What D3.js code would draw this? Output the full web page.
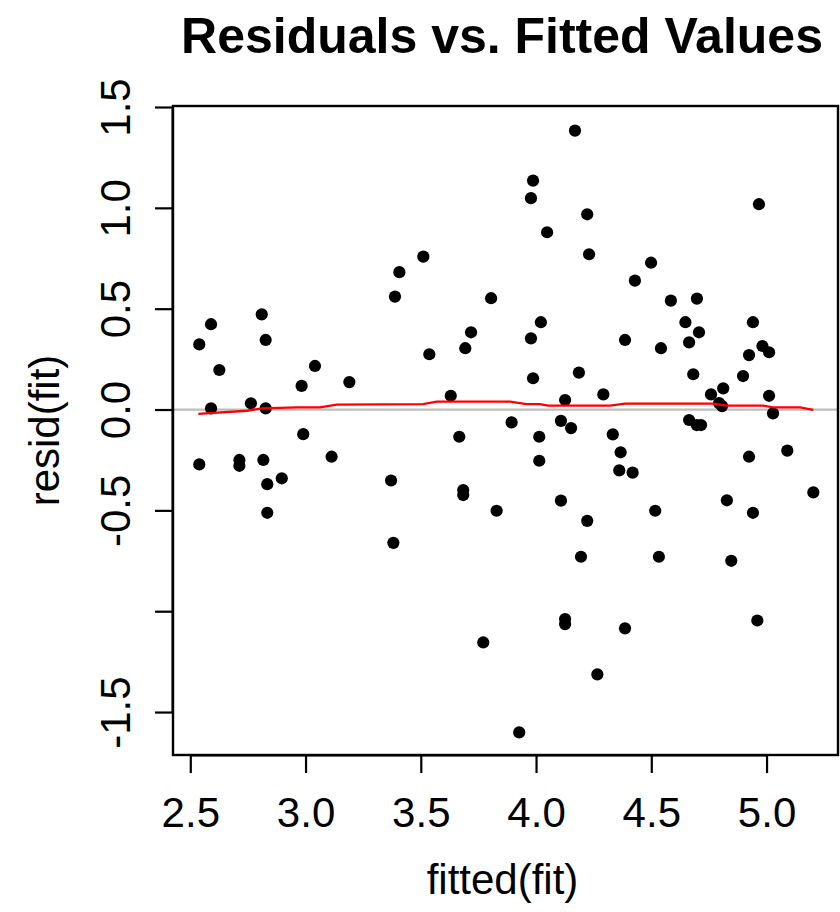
<!DOCTYPE html>
<html>
<head>
<meta charset="utf-8">
<script src="https://cdn.jsdelivr.net/npm/d3@7"></script>
<style>
  html, body { margin: 0; padding: 0; background: #ffffff; }
  svg { display: block; }
  text { font-family: "Liberation Sans", Arial, Helvetica, sans-serif; fill: #000; }
</style>
</head>
<body>
<script>
// Fitted values and residuals of the model
const fittedVals = [
  2.539, 2.590, 2.626, 2.590, 2.539, 2.713, 2.713, 2.763, 2.810, 2.827,
  2.827, 2.817, 2.834, 2.834, 2.897, 2.983, 2.990, 3.041, 3.113, 3.190,
  3.371, 3.381, 3.388, 3.407, 3.511, 3.537, 3.630, 3.667, 3.684, 3.684,
  3.693, 3.718, 3.771, 3.805, 3.829, 3.894, 3.927, 3.978, 3.987, 3.978,
  3.987, 4.014, 4.014, 4.021, 4.048, 4.108, 4.108, 4.126, 4.126, 4.126,
  4.152, 4.169, 4.186, 4.195, 4.222, 4.230, 4.222, 4.266, 4.292, 4.333,
  4.367, 4.361, 4.386, 4.386, 4.419, 4.429, 4.499, 4.517, 4.533, 4.542,
  4.585, 4.648, 4.664, 4.664, 4.682, 4.698, 4.707, 4.697, 4.716, 4.759,
  4.794, 4.812, 4.807, 4.828, 4.847, 4.898, 4.924, 4.924, 4.941, 4.941,
  4.960, 4.967, 4.982, 5.011, 5.011, 5.028, 5.090, 5.203
];
const residVals = [
  0.323, 0.423, 0.196, 0.006, -0.272, -0.250, -0.279, 0.031, 0.472, 0.345,
  0.006, -0.250, -0.370, -0.512, -0.341, 0.117, -0.122, 0.216, -0.234, 0.136,
  -0.352, -0.661, 0.560, 0.681, 0.758, 0.274, 0.068, -0.135, -0.399, -0.424,
  0.304, 0.383, -1.155, 0.552, -0.502, -0.064, -1.601, 1.048, 1.135, 0.353,
  0.155, -0.135, -0.254, 0.433, 0.879, -0.056, -0.452, 0.047, -1.039, -1.064,
  -0.092, 1.383, 0.183, -0.730, 0.968, 0.770, -0.552, -1.313, 0.075, -0.123,
  -0.212, -0.302, 0.345, -1.085, -0.313, 0.639, 0.728, -0.502, -0.730, 0.304,
  0.540, 0.433, 0.333, -0.052, 0.175, 0.550, 0.383, -0.077, -0.077, 0.075,
  0.032, 0.105, 0.017, -0.450, -0.750, 0.166, 0.270, -0.234, 0.433, -0.512,
  -1.046, 1.018, 0.315, 0.284, 0.068, -0.019, -0.204, -0.411
];

// Smoothed (lowess) trend of the residuals
const lowessFitted = [
  2.535, 2.745, 2.810, 2.962, 3.063, 3.135, 3.323, 3.510, 3.569, 3.887,
  3.959, 4.017, 4.053, 4.321, 4.386, 4.768, 4.827, 4.985, 5.028, 5.145, 5.203
];
const lowessResid = [
  -0.022, -0.006, 0.006, 0.011, 0.011, 0.024, 0.026, 0.027, 0.039, 0.039,
  0.027, 0.027, 0.019, 0.019, 0.029, 0.029, 0.019, 0.019, 0.011, 0.011, -0.002
];

// Axis ticks and their labels (the -1.0 label is dropped, as in the R device)
const xTicks = [2.5, 3.0, 3.5, 4.0, 4.5, 5.0];
const xTickLabels = ["2.5", "3.0", "3.5", "4.0", "4.5", "5.0"];
const yTicks = [-1.5, -1.0, -0.5, 0.0, 0.5, 1.0, 1.5];
const yTickLabels = ["-1.5", "", "-0.5", "0.0", "0.5", "1.0", "1.5"];

const titleText = "Residuals vs. Fitted Values";
const xTitle = "fitted(fit)";
const yTitle = "resid(fit)";

const W = 840, H = 912;
const box = { left: 173, right: 838, top: 106, bottom: 755 };

const svg = d3.select("body").append("svg")
  .attr("width", W).attr("height", H);

const x = d3.scaleLinear().domain([2.425, 5.31]).range([box.left, box.right]);
const y = d3.scaleLinear().domain([-1.713, 1.505]).range([box.bottom, box.top]);

// Reference line at zero
svg.append("line")
  .attr("x1", box.left).attr("x2", box.right)
  .attr("y1", y(0)).attr("y2", y(0))
  .attr("stroke", "#bebebe").attr("stroke-width", 2.2);

// Points
const pts = fittedVals.map((f, i) => ({ f, r: residVals[i] }));
svg.append("g").selectAll("circle").data(pts).join("circle")
  .attr("cx", d => x(d.f))
  .attr("cy", d => y(d.r))
  .attr("r", 6.1)
  .attr("fill", "#000");

// Lowess curve
const lw = lowessFitted.map((f, i) => [f, lowessResid[i]]);
svg.append("path")
  .datum(lw)
  .attr("d", d3.line().x(d => x(d[0])).y(d => y(d[1])))
  .attr("fill", "none")
  .attr("stroke", "#ff0000")
  .attr("stroke-width", 2.3);

// Plot frame
svg.append("rect")
  .attr("x", box.left).attr("y", box.top)
  .attr("width", box.right - box.left).attr("height", box.bottom - box.top)
  .attr("fill", "none").attr("stroke", "#000").attr("stroke-width", 2.4);

// X axis
const xAxis = d3.axisBottom(x)
  .tickValues(xTicks)
  .tickFormat((d, i) => xTickLabels[i])
  .tickSize(18)
  .tickPadding(0);
const gx = svg.append("g").attr("transform", `translate(0,${box.bottom})`).call(xAxis);
gx.select(".domain")
  .attr("d", `M${x(xTicks[0])},0.5H${x(xTicks[xTicks.length - 1])}`)
  .attr("stroke", "#000").attr("stroke-width", 2);
gx.selectAll(".tick line").attr("stroke", "#000").attr("stroke-width", 2.2);
gx.selectAll(".tick text")
  .attr("y", 72).attr("dy", null)
  .style("font-size", "42px")
  .style("font-family", '"Liberation Sans", Arial, Helvetica, sans-serif');

// Y axis with labels parallel to the axis
const yAxis = d3.axisLeft(y)
  .tickValues(yTicks)
  .tickFormat((d, i) => yTickLabels[i])
  .tickSize(18)
  .tickPadding(0);
const gy = svg.append("g").attr("transform", `translate(${box.left},0)`).call(yAxis);
gy.select(".domain")
  .attr("d", `M-0.5,${y(yTicks[0])}V${y(yTicks[yTicks.length - 1])}`)
  .attr("stroke", "#000").attr("stroke-width", 2);
gy.selectAll(".tick line").attr("stroke", "#000").attr("stroke-width", 2.2);
gy.selectAll(".tick text")
  .attr("x", null).attr("dy", null)
  .attr("text-anchor", "middle")
  .attr("transform", "translate(-43,0) rotate(-90)")
  .style("font-size", "42px")
  .style("font-family", '"Liberation Sans", Arial, Helvetica, sans-serif');

// Titles
svg.append("text")
  .attr("x", 502).attr("y", 52.5)
  .attr("text-anchor", "middle")
  .style("font-size", "50px").style("font-weight", "bold")
  .text(titleText);

svg.append("text")
  .attr("x", (box.left + box.right) / 2 - 3).attr("y", 894)
  .attr("text-anchor", "middle")
  .style("font-size", "42px")
  .text(xTitle);

svg.append("text")
  .attr("transform", `translate(59,${(box.top + box.bottom) / 2}) rotate(-90)`)
  .attr("text-anchor", "middle")
  .style("font-size", "42px")
  .text(yTitle);
</script>
</body>
</html>
